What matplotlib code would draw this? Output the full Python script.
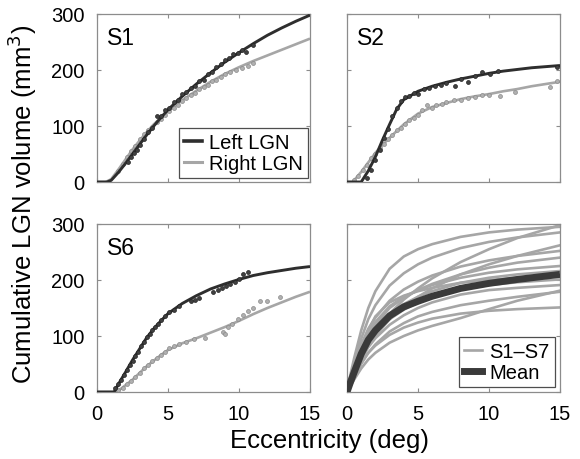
import matplotlib
matplotlib.use("Agg")
import matplotlib.pyplot as plt
from matplotlib.lines import Line2D

plt.rcParams['font.family'] = ['Liberation Sans', 'DejaVu Sans']

# ---------------- data ----------------
# S1 fitted curves
s1_left_x = [0, 0.7, 1, 1.5, 2, 2.5, 3, 3.5, 4, 4.5, 5, 6, 7, 8, 9, 10, 11, 12, 13, 14, 15]
s1_left_y = [0, 0, 3, 17, 33, 50, 67, 84, 100, 115, 129, 153, 175, 195, 214, 231, 247, 262, 275, 287, 298]
s1_right_x = [0, 0.6, 1, 1.5, 2, 2.5, 3, 3.5, 4, 5, 6, 7, 8, 9, 10, 11, 12, 13, 14, 15]
s1_right_y = [0, 0, 5, 22, 40, 58, 74, 89, 103, 126, 146, 163, 179, 193, 205, 216, 226, 236, 246, 256]
# S1 measured points
s1_left_px = [2.2, 2.4, 2.6, 2.8, 3.0, 3.3, 3.6, 3.9, 4.2, 4.5, 4.8, 5.1, 5.4, 5.7, 6.0, 6.3, 6.6, 6.9,
              7.2, 7.5, 7.8, 8.1, 8.4, 8.7, 9.0, 9.3, 9.6, 9.9, 10.2, 10.5, 11.0]
s1_left_py = [36, 45, 52, 58, 66, 76, 90, 96, 118, 117, 128, 133, 143, 147, 157, 160, 167, 172,
              180, 183, 192, 196, 205, 210, 218, 222, 228, 231, 235, 233, 244]
s1_right_px = [1.5, 1.8, 2.1, 2.4, 2.7, 3.0, 3.3, 3.6, 3.9, 4.2, 4.5, 4.8, 5.1, 5.4, 5.7, 6.0, 6.3, 6.6,
               6.9, 7.2, 7.5, 7.8, 8.1, 8.4, 8.7, 9.0, 9.4, 9.8, 10.2, 10.6, 11.0]
s1_right_py = [19, 33, 45, 55, 65, 76, 85, 93, 99, 107, 113, 120, 126, 133, 138, 145, 150, 155,
               159, 166, 169, 174, 180, 183, 188, 192, 197, 200, 203, 207, 213]

# S2 fitted curves
s2_left_x = [0, 1, 1.5, 2, 2.5, 3, 3.5, 4, 5, 6, 7, 8, 9, 10, 11, 12, 13, 14, 15]
s2_left_y = [0, 0, 20, 45, 75, 103, 130, 147, 162, 171, 178, 184, 189, 194, 198, 201, 204, 206, 208]
s2_right_x = [0, 0.4, 1, 1.5, 2, 2.5, 3, 4, 5, 6, 7, 8, 9, 10, 11, 12, 13, 14, 15]
s2_right_y = [0, 0, 18, 35, 52, 66, 79, 103, 122, 134, 141, 148, 153, 157, 162, 166, 171, 175, 179]
# S2 measured points
s2_left_px = [1.4, 1.7, 2.0, 2.3, 2.6, 2.9, 3.2, 3.5, 3.8, 4.1, 4.4, 4.7, 5.0, 5.4, 5.8, 6.2, 6.6,
              7.0, 7.6, 8.0, 8.5, 9.0, 9.5, 10.1, 10.6, 14.8]
s2_left_py = [8, 22, 40, 58, 78, 95, 118, 132, 145, 152, 154, 159, 158, 166, 168, 172, 174,
              176, 171, 184, 178, 190, 196, 193, 198, 205]
s2_right_px = [0.5, 0.8, 1.1, 1.4, 1.7, 2.0, 2.3, 2.6, 2.9, 3.2, 3.5, 3.8, 4.1, 4.4, 4.7, 5.0, 5.3,
               5.6, 6.0, 6.3, 6.7, 7.0, 7.5, 8.0, 8.5, 9.0, 9.5, 10.0, 10.8, 11.8, 14.3, 14.8]
s2_right_py = [3, 10, 22, 30, 42, 50, 60, 68, 76, 84, 92, 97, 104, 110, 115, 120, 128,
               137, 133, 138, 139, 142, 146, 147, 150, 152, 155, 156, 154, 161, 170, 181]

# S6 fitted curves
s6_left_x = [0, 1.2, 1.6, 2, 2.5, 3, 3.5, 4, 4.5, 5, 6, 7, 8, 9, 10, 11, 12, 13, 14, 15]
s6_left_y = [0, 0, 18, 35, 57, 77, 97, 113, 127, 140, 158, 172, 184, 193, 201, 208, 213, 217, 221, 224]
s6_right_x = [0, 1.4, 2, 2.5, 3, 3.5, 4, 4.5, 5, 6, 7, 8, 9, 10, 11, 12, 13, 14, 15]
s6_right_y = [0, 0, 12, 22, 34, 46, 56, 66, 75, 87, 96, 106, 116, 127, 139, 150, 160, 170, 179]
# S6 measured points
s6_left_px = [1.3, 1.5, 1.7, 1.9, 2.1, 2.3, 2.5, 2.7, 2.9, 3.1, 3.3, 3.5, 3.7, 3.9, 4.1, 4.3, 4.5,
              4.8, 5.1, 5.4, 5.8, 6.6, 6.9, 7.2, 8.2, 8.5, 8.8, 9.1, 9.4, 9.7, 10.0, 10.3, 10.6]
s6_left_py = [8, 15, 22, 30, 40, 48, 55, 65, 72, 82, 90, 98, 104, 110, 116, 122, 128,
              135, 143, 147, 153, 163, 165, 167, 178, 182, 186, 190, 193, 197, 202, 210, 214]
s6_right_px = [1.5, 1.8, 2.1, 2.4, 2.7, 3.0, 3.3, 3.6, 3.9, 4.2, 4.5, 4.8, 5.1, 5.4, 5.8, 6.3, 6.8,
               7.6, 8.9, 9.0, 9.2, 9.5, 9.9, 10.3, 10.6, 11.0, 11.5, 12.0, 12.9]
s6_right_py = [3, 8, 14, 20, 27, 34, 42, 49, 55, 61, 66, 72, 79, 83, 85, 90, 95,
               97, 107, 104, 116, 122, 130, 138, 145, 150, 162, 162, 170]

# Panel 4: all subjects (aligned to onset) and mean
all_x = [0, 0.25, 0.5, 1, 1.5, 2, 3, 4, 5, 6, 8, 10, 12, 15]
subj_curves = [
    [0, 32, 60, 110, 150, 180, 220, 242, 255, 264, 277, 285, 290, 295],
    [0, 15, 30, 60, 85, 105, 140, 165, 185, 203, 232, 255, 275, 298],
    [0, 26, 50, 95, 130, 155, 190, 212, 228, 240, 257, 268, 276, 285],
    [0, 15, 30, 58, 82, 100, 130, 152, 170, 185, 210, 228, 243, 262],
    [0, 23, 45, 85, 113, 133, 163, 183, 197, 208, 224, 235, 243, 252],
    [0, 21, 40, 75, 100, 120, 150, 168, 182, 193, 210, 222, 231, 240],
    [0, 21, 40, 78, 105, 125, 153, 170, 182, 191, 204, 213, 219, 225],
    [0, 20, 38, 70, 95, 113, 140, 157, 170, 180, 195, 204, 210, 216],
    [0, 16, 35, 75, 110, 135, 160, 172, 180, 186, 195, 200, 204, 208],
    [0, 18, 35, 65, 88, 105, 130, 147, 160, 170, 183, 191, 196, 201],
    [0, 16, 30, 58, 80, 96, 120, 137, 150, 160, 174, 182, 186, 191],
    [0, 13, 25, 50, 70, 85, 108, 123, 135, 143, 155, 163, 170, 179],
    [0, 11, 22, 42, 58, 70, 88, 100, 110, 118, 132, 148, 163, 181],
    [0, 15, 28, 52, 70, 83, 102, 115, 124, 131, 140, 145, 148, 151],
]
mean_curve = [0, 18, 35, 68, 93, 110, 136, 152, 162, 171, 185, 194, 201, 210]

x_ticks = [0, 5, 10, 15]
y_ticks = [0, 100, 200, 300]

# ---------------- styling ----------------
DARK = '#2e2e2e'
GRAY = '#a6a6a6'
FRAME = '#8c8c8c'
TICK_FS = 14.5

fig = plt.figure(figsize=(5.8, 4.6), dpi=100)
W, H = 580.0, 460.0

def axes_px(left, top, right, bottom):
    return fig.add_axes([left / W, 1 - bottom / H, (right - left) / W, (bottom - top) / H])

ax1 = axes_px(97, 15, 310, 183)
ax2 = axes_px(347, 15, 560, 183)
ax3 = axes_px(97, 225, 310, 393)
ax4 = axes_px(347, 225, 560, 393)

for ax in (ax1, ax2, ax3, ax4):
    ax.set_xlim(0, 15)
    ax.set_ylim(0, 300)
    ax.set_xticks(x_ticks)
    ax.set_yticks(y_ticks)
    for sp in ax.spines.values():
        sp.set_color(FRAME)
        sp.set_linewidth(0.9)
    ax.tick_params(direction='in', length=3, width=0.8, color=FRAME,
                   top=True, right=True, labelsize=TICK_FS, pad=9)

for ax in (ax1, ax2):
    ax.tick_params(labelbottom=False)
for ax in (ax2, ax4):
    ax.tick_params(labelleft=False)


def subject_panel(ax, lx, ly, rx, ry, lpx, lpy, rpx, rpy, label):
    ax.plot(rx, ry, color=GRAY, lw=1.9, zorder=2, solid_capstyle='butt')
    ax.scatter(rpx, rpy, s=8, color='#b0b0b0', edgecolors='#8a8a8a', linewidths=0.5, zorder=3)
    ax.plot(lx, ly, color=DARK, lw=2.1, zorder=4, solid_capstyle='butt')
    ax.scatter(lpx, lpy, s=8, color='#404040', edgecolors='#222222', linewidths=0.5, zorder=5)
    ax.text(0.045, 0.93, label, transform=ax.transAxes, ha='left', va='top', fontsize=16.5)


subject_panel(ax1, s1_left_x, s1_left_y, s1_right_x, s1_right_y,
              s1_left_px, s1_left_py, s1_right_px, s1_right_py, 'S1')
subject_panel(ax2, s2_left_x, s2_left_y, s2_right_x, s2_right_y,
              s2_left_px, s2_left_py, s2_right_px, s2_right_py, 'S2')
subject_panel(ax3, s6_left_x, s6_left_y, s6_right_x, s6_right_y,
              s6_left_px, s6_left_py, s6_right_px, s6_right_py, 'S6')

leg1 = ax1.legend([Line2D([], [], color=DARK, lw=2.6), Line2D([], [], color=GRAY, lw=2.2)],
                  ['Left LGN', 'Right LGN'], loc='lower right', bbox_to_anchor=(0.99, 0.025),
                  fontsize=14.5, frameon=True, fancybox=False, handlelength=0.9,
                  handletextpad=0.35, borderpad=0.25, labelspacing=0.1, borderaxespad=0.0)
leg1.get_frame().set_edgecolor('#222222')
leg1.get_frame().set_linewidth(0.9)

for c in subj_curves:
    ax4.plot(all_x, c, color=GRAY, lw=1.9, zorder=2)
ax4.plot(all_x, mean_curve, color='#3a3a3a', lw=5.0, zorder=3, solid_capstyle='butt')
leg4 = ax4.legend([Line2D([], [], color=GRAY, lw=1.9), Line2D([], [], color='#3a3a3a', lw=5.0)],
                  ['S1\u2013S7', 'Mean'], loc='lower right', bbox_to_anchor=(0.975, 0.03),
                  fontsize=14.5, frameon=True, fancybox=False, handlelength=0.9,
                  handletextpad=0.35, borderpad=0.25, labelspacing=0.1, borderaxespad=0.0)
leg4.get_frame().set_edgecolor('#222222')
leg4.get_frame().set_linewidth(0.9)

fig.text(22 / W, 1 - 204 / H, 'Cumulative LGN volume (mm$^3$)', rotation=90,
         ha='center', va='center', fontsize=18.5)
fig.text(330 / W, 1 - 441 / H, 'Eccentricity (deg)', ha='center', va='center', fontsize=18.5)

fig.savefig('out.png', dpi=100)
